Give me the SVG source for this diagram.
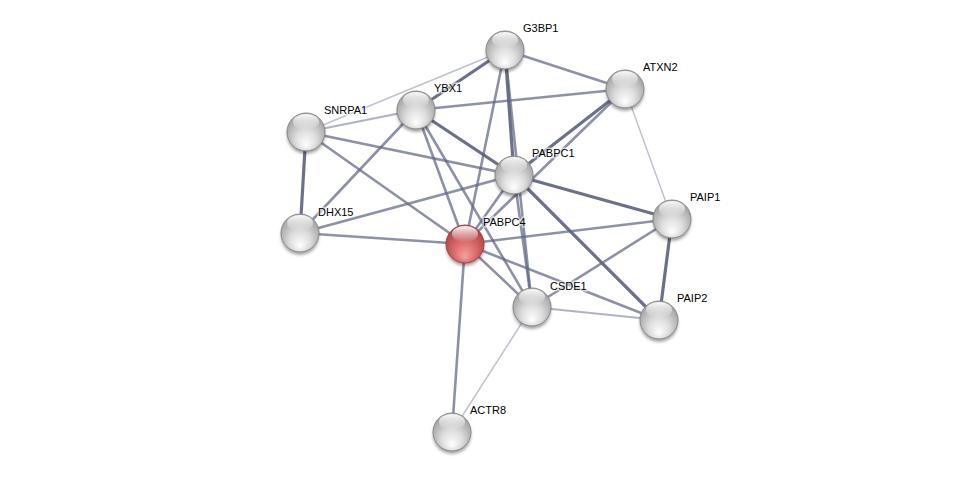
<svg xmlns="http://www.w3.org/2000/svg" width="976" height="477" viewBox="0 0 976 477">
<style>
.e{fill:none;stroke-linecap:round}
.t{stroke:#505874;stroke-width:3.2;stroke-opacity:.85}
.m{stroke:#5f6785;stroke-width:2.6;stroke-opacity:.72}
.l{stroke:#8c92ab;stroke-width:2;stroke-opacity:.7}
.n{stroke:#a8adc2;stroke-width:1.5;stroke-opacity:.75}
text{font-family:"Liberation Sans",Arial,sans-serif;font-size:11px;fill:#000;stroke:#fff;stroke-width:3px;stroke-opacity:.6;paint-order:stroke}
.b{fill:url(#gw);stroke:#8a8a8a;stroke-width:1}
.r{fill:url(#gr);stroke:#a04545;stroke-width:1}
.h{fill:url(#gh)}
.s{fill:#000;fill-opacity:.35;filter:url(#bl)}
</style>
<defs>
<radialGradient id="gw" cx="50%" cy="60%" r="55%" fx="50%" fy="85%">
<stop offset="0" stop-color="#ffffff"/>
<stop offset="0.5" stop-color="#dddddd"/>
<stop offset="1" stop-color="#a5a5a5"/>
</radialGradient>
<radialGradient id="gr" cx="50%" cy="60%" r="55%" fx="50%" fy="85%">
<stop offset="0" stop-color="#f7a0a0"/>
<stop offset="0.5" stop-color="#dc6e6e"/>
<stop offset="1" stop-color="#b04545"/>
</radialGradient>
<linearGradient id="gh" x1="0" y1="0" x2="0" y2="1">
<stop offset="0" stop-color="#fff" stop-opacity=".95"/>
<stop offset="1" stop-color="#fff" stop-opacity="0"/>
</linearGradient>
<filter id="bl" x="-50%" y="-50%" width="200%" height="200%"><feGaussianBlur stdDeviation="1.6"/></filter>
</defs>
<g id="edges">
<line class="e n" x1="505" y1="50" x2="306" y2="132"/>
<line class="e t" x1="505" y1="50" x2="416" y2="110"/>
<line class="e m" x1="505" y1="50" x2="625" y2="89"/>
<line class="e t" x1="505" y1="50" x2="514" y2="175"/>
<line class="e m" x1="505" y1="50" x2="465" y2="244"/>
<line class="e m" x1="505" y1="50" x2="532" y2="307"/>
<line class="e m" x1="416" y1="110" x2="625" y2="89"/>
<line class="e l" x1="416" y1="110" x2="306" y2="132"/>
<line class="e t" x1="416" y1="110" x2="514" y2="175"/>
<line class="e m" x1="416" y1="110" x2="300" y2="233"/>
<line class="e m" x1="416" y1="110" x2="465" y2="244"/>
<line class="e m" x1="416" y1="110" x2="532" y2="307"/>
<line class="e t" x1="625" y1="89" x2="514" y2="175"/>
<line class="e m" x1="625" y1="89" x2="465" y2="244"/>
<line class="e n" x1="625" y1="89" x2="672" y2="219"/>
<line class="e t" x1="306" y1="132" x2="300" y2="233"/>
<line class="e m" x1="306" y1="132" x2="514" y2="175"/>
<line class="e m" x1="306" y1="132" x2="465" y2="244"/>
<line class="e m" x1="514" y1="175" x2="300" y2="233"/>
<line class="e t" x1="514" y1="175" x2="672" y2="219"/>
<line class="e t" x1="514" y1="175" x2="659" y2="320"/>
<line class="e m" x1="514" y1="175" x2="465" y2="244"/>
<line class="e m" x1="514" y1="175" x2="532" y2="307"/>
<line class="e m" x1="300" y1="233" x2="465" y2="244"/>
<line class="e m" x1="465" y1="244" x2="672" y2="219"/>
<line class="e m" x1="465" y1="244" x2="532" y2="307"/>
<line class="e m" x1="465" y1="244" x2="659" y2="320"/>
<line class="e m" x1="465" y1="244" x2="452" y2="432"/>
<line class="e m" x1="672" y1="219" x2="532" y2="307"/>
<line class="e t" x1="672" y1="219" x2="659" y2="320"/>
<line class="e l" x1="532" y1="307" x2="659" y2="320"/>
<line class="e n" x1="532" y1="307" x2="452" y2="432"/>
</g>
<g id="G3BP1"><circle class="s" cx="505" cy="53" r="19"/><circle class="b" cx="505" cy="50" r="19"/><ellipse class="h" cx="505" cy="40" rx="13" ry="8"/><text x="523" y="32">G3BP1</text></g>
<g id="ATXN2"><circle class="s" cx="625" cy="92" r="19"/><circle class="b" cx="625" cy="89" r="19"/><ellipse class="h" cx="625" cy="79" rx="13" ry="8"/><text x="643" y="71">ATXN2</text></g>
<g id="YBX1"><circle class="s" cx="416" cy="113" r="19"/><circle class="b" cx="416" cy="110" r="19"/><ellipse class="h" cx="416" cy="100" rx="13" ry="8"/><text x="434" y="92">YBX1</text></g>
<g id="SNRPA1"><circle class="s" cx="306" cy="135" r="19"/><circle class="b" cx="306" cy="132" r="19"/><ellipse class="h" cx="306" cy="122" rx="13" ry="8"/><text x="324" y="114">SNRPA1</text></g>
<g id="PABPC1"><circle class="s" cx="514" cy="178" r="19"/><circle class="b" cx="514" cy="175" r="19"/><ellipse class="h" cx="514" cy="165" rx="13" ry="8"/><text x="532" y="157">PABPC1</text></g>
<g id="DHX15"><circle class="s" cx="300" cy="236" r="19"/><circle class="b" cx="300" cy="233" r="19"/><ellipse class="h" cx="300" cy="223" rx="13" ry="8"/><text x="318" y="216">DHX15</text></g>
<g id="PABPC4"><circle class="s" cx="465" cy="247" r="19"/><circle class="r" cx="465" cy="244" r="19"/><ellipse class="h" cx="465" cy="234" rx="13" ry="8"/><text x="483" y="226">PABPC4</text></g>
<g id="PAIP1"><circle class="s" cx="672" cy="222" r="19"/><circle class="b" cx="672" cy="219" r="19"/><ellipse class="h" cx="672" cy="209" rx="13" ry="8"/><text x="690" y="201">PAIP1</text></g>
<g id="CSDE1"><circle class="s" cx="532" cy="310" r="19"/><circle class="b" cx="532" cy="307" r="19"/><ellipse class="h" cx="532" cy="297" rx="13" ry="8"/><text x="550" y="290">CSDE1</text></g>
<g id="PAIP2"><circle class="s" cx="659" cy="323" r="19"/><circle class="b" cx="659" cy="320" r="19"/><ellipse class="h" cx="659" cy="310" rx="13" ry="8"/><text x="677" y="302">PAIP2</text></g>
<g id="ACTR8"><circle class="s" cx="452" cy="435" r="19"/><circle class="b" cx="452" cy="432" r="19"/><ellipse class="h" cx="452" cy="422" rx="13" ry="8"/><text x="470" y="414">ACTR8</text></g>
</svg>
